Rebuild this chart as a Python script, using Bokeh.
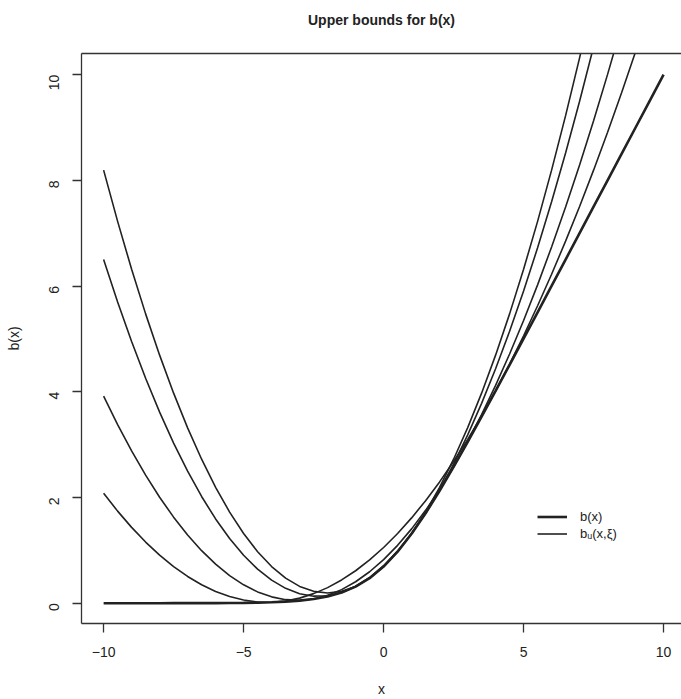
import math
import numpy as np
from bokeh.plotting import figure
from bokeh.models import Range1d, FixedTicker, LinearAxis, Legend, LegendItem
from bokeh.embed import file_html
from bokeh.resources import INLINE

# x grid (step 0.5 from -10 to 10)
x_grid = np.arange(-10.0, 10.0001, 0.5)

# b(x)
b_x = [0.000, 0.000, 0.000, 0.000, 0.000, 0.001, 0.001, 0.002, 0.002, 0.004,
       0.007, 0.011, 0.018, 0.030, 0.049, 0.079, 0.127, 0.201, 0.313, 0.474,
       0.693, 0.974, 1.313, 1.701, 2.127, 2.579, 3.049, 3.530, 4.018, 4.511,
       5.007, 5.504, 6.002, 6.502, 7.001, 7.501, 8.000, 8.500, 9.000, 9.500,
       10.000]

# upper bounds b_U(x, xi) for four values of xi (values beyond the top are clipped)
bound_1 = [8.193, 7.224, 6.318, 5.474, 4.693, 3.974, 3.318, 2.724, 2.193, 1.724,
           1.318, 0.974, 0.693, 0.474, 0.318, 0.224, 0.193, 0.224, 0.318, 0.474,
           0.693, 0.974, 1.318, 1.724, 2.193, 2.724, 3.318, 3.974, 4.693, 5.474,
           6.318, 7.224, 8.193, 9.224, 10.318, 11.474]
bound_2 = [6.501, 5.699, 4.951, 4.256, 3.616, 3.030, 2.497, 2.019, 1.594, 1.224,
           0.907, 0.644, 0.436, 0.281, 0.180, 0.133, 0.141, 0.202, 0.317, 0.486,
           0.709, 0.986, 1.317, 1.702, 2.141, 2.633, 3.180, 3.781, 4.436, 5.144,
           5.907, 6.724, 7.594, 8.519, 9.497, 10.530]
bound_3 = [3.918, 3.379, 2.881, 2.422, 2.005, 1.628, 1.291, 0.994, 0.739, 0.523,
           0.348, 0.214, 0.120, 0.067, 0.054, 0.081, 0.149, 0.257, 0.406, 0.595,
           0.825, 1.095, 1.406, 1.757, 2.149, 2.581, 3.054, 3.567, 4.120, 4.714,
           5.348, 6.023, 6.739, 7.494, 8.291, 9.128, 10.005, 10.922]
bound_4 = [2.079, 1.742, 1.435, 1.157, 0.910, 0.693, 0.506, 0.350, 0.223, 0.127,
           0.060, 0.024, 0.018, 0.042, 0.096, 0.181, 0.295, 0.440, 0.614, 0.819,
           1.054, 1.319, 1.614, 1.940, 2.295, 2.681, 3.096, 3.542, 4.018, 4.524,
           5.060, 5.627, 6.223, 6.850, 7.506, 8.193, 8.910, 9.657, 10.435, 11.242]
bounds = [bound_1, bound_2, bound_3, bound_4]

x_ticks = [-10, -5, 0, 5, 10]
y_ticks = [0, 2, 4, 6, 8, 10]

FONT = "Liberation Sans"
INK = "#222222"
BOX = "#333333"

p = figure(width=681, height=699, output_backend="svg", toolbar_location=None,
           x_range=Range1d(-10.79, 10.64), y_range=Range1d(-0.384, 10.4),
           min_border_left=81, min_border_right=0, min_border_top=53,
           min_border_bottom=76, title="Upper bounds for b(x)")
p.grid.visible = False
p.outline_line_color = None
p.background_fill_color = "white"
p.border_fill_color = "white"

p.title.align = "center"
p.title.text_font = FONT
p.title.text_font_size = "14px"
p.title.text_font_style = "bold"
p.title.text_color = INK
p.title.standoff = 4

def style_axis(ax):
    ax.axis_line_color = BOX
    ax.axis_line_width = 1.3
    ax.major_tick_line_color = BOX
    ax.major_tick_line_width = 1.3
    ax.major_tick_out = 9
    ax.major_tick_in = 0
    ax.minor_tick_out = 0
    ax.minor_tick_in = 0
    ax.major_label_text_font = FONT
    ax.major_label_text_font_size = "14px"
    ax.major_label_text_color = INK
    ax.axis_label_text_font = FONT
    ax.axis_label_text_font_size = "14px"
    ax.axis_label_text_font_style = "normal"
    ax.axis_label_text_color = INK

for ax in p.xaxis:
    style_axis(ax)
    ax.ticker = FixedTicker(ticks=x_ticks)
    ax.major_label_standoff = 14
    ax.axis_label = "x"
    ax.axis_label_standoff = 21
for ax in p.yaxis:
    style_axis(ax)
    ax.ticker = FixedTicker(ticks=y_ticks)
    ax.major_label_orientation = math.pi / 2
    ax.major_label_standoff = 18
    ax.axis_label = "b(x)"
    ax.axis_label_standoff = 20

# top edge of the box (no ticks); a blank label leaves room below the title
top = LinearAxis(ticker=FixedTicker(ticks=[]), major_label_text_font_size="0px",
                 major_tick_out=0, major_tick_in=0, minor_tick_out=0, minor_tick_in=0,
                 major_label_standoff=0, axis_line_color=BOX, axis_line_width=1.3,
                 axis_label=" ", axis_label_text_font=FONT,
                 axis_label_text_font_size="14px", axis_label_standoff=5)
p.add_layout(top, "above")

rb = p.line(x_grid, b_x, line_color=INK, line_width=2.6)
rbs = []
for vals in bounds:
    r = p.line(x_grid[:len(vals)], vals, line_color=INK, line_width=1.6)
    rbs.append(r)

legend = Legend(items=[LegendItem(label="b(x)", renderers=[rb]),
                       LegendItem(label="bᵤ(x,ξ)", renderers=[rbs[0]])],
                location=(456, 81), border_line_color=None, background_fill_alpha=0,
                padding=0, margin=0, spacing=0, glyph_width=30, glyph_height=17,
                label_height=17, label_standoff=13, label_text_font=FONT,
                label_text_font_size="13px", label_text_color=INK)
p.add_layout(legend)

open("out.html", "w").write(file_html(p, INLINE))
